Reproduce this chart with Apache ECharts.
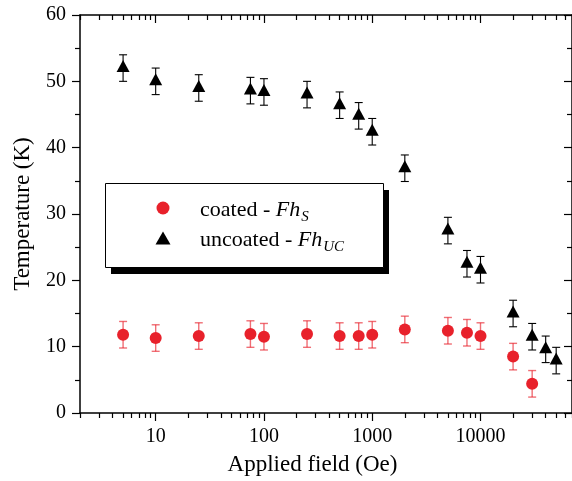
<!DOCTYPE html>
<html>
<head>
<meta charset="utf-8">
<script src="https://cdn.jsdelivr.net/npm/echarts@6/dist/echarts.min.js"></script>
<style>html,body{margin:0;padding:0;background:#fff}#c{width:572px;height:481px}</style>
</head>
<body>
<div id="c"></div>
<script>
// ---- data ----
const uncoatedFields = [5, 10, 25, 75, 100, 250, 500, 750, 1000, 2000, 5000, 7500, 10000, 20000, 30000, 40000, 50000];
const uncoatedTemp   = [52.0, 50.0, 49.0, 48.6, 48.4, 48.0, 46.4, 44.8, 42.4, 36.9, 27.5, 22.5, 21.6, 15.0, 11.5, 9.6, 7.9];
const uncoatedErr    = [2, 2, 2, 2, 2, 2, 2, 2, 2, 2, 2, 2, 2, 2, 2, 2, 2];
const coatedFields   = [5, 10, 25, 75, 100, 250, 500, 750, 1000, 2000, 5000, 7500, 10000, 20000, 30000];
const coatedTemp     = [11.8, 11.3, 11.6, 11.9, 11.5, 11.9, 11.6, 11.6, 11.8, 12.6, 12.4, 12.1, 11.6, 8.5, 4.4];
const coatedErr      = [2, 2, 2, 2, 2, 2, 2, 2, 2, 2, 2, 2, 2, 2, 2];
const xMajorTicks = [10, 100, 1000, 10000];
const xMinorTicks = [2,3,4,5,6,7,8,9, 20,30,40,50,60,70,80,90, 200,300,400,500,600,700,800,900,
                     2000,3000,4000,5000,6000,7000,8000,9000, 20000,30000,40000,50000,60000,70000];
const yTicks = [0, 10, 20, 30, 40, 50, 60];
const seriesNames = ['coated', 'uncoated'];
const legendSubs = ['S', 'UC'];
const xName = 'Applied field (Oe)';
const yName = 'Temperature (K)';

const RED = '#e8212b';
const FONT = '"Liberation Serif", "DejaVu Serif", serif';

const chart = echarts.init(document.getElementById('c'), null, {renderer: 'canvas'});

function build(fields, temps, errs) {
  return fields.map((f, i) => [f, temps[i], errs[i]]);
}
const coatedData = build(coatedFields, coatedTemp, coatedErr);
const uncoatedData = build(uncoatedFields, uncoatedTemp, uncoatedErr);

function errRender(color, width) {
  return function (params, api) {
    const x = api.value(0), y = api.value(1), e = api.value(2);
    const top = api.coord([x, y + e]);
    const bot = api.coord([x, y - e]);
    const hw = 4;
    const st = {stroke: color, lineWidth: width, fill: null};
    return {
      type: 'group',
      children: [
        {type: 'line', shape: {x1: top[0], y1: top[1], x2: bot[0], y2: bot[1]}, style: st},
        {type: 'line', shape: {x1: top[0] - hw, y1: top[1], x2: top[0] + hw, y2: top[1]}, style: st},
        {type: 'line', shape: {x1: bot[0] - hw, y1: bot[1], x2: bot[0] + hw, y2: bot[1]}, style: st}
      ]
    };
  };
}

const gridRect = {left: 80, top: 15, width: 494, height: 398};
const axisLineStyle = {color: '#000', width: 1.5};

function xAxis(gridIndex, position, ticks, len, inside, showLabel, showLine, name) {
  return {
    type: 'log', logBase: 10, min: 2, max: 70000, gridIndex, position,
    splitLine: {show: false},
    axisLine: {show: showLine, onZero: false, lineStyle: axisLineStyle},
    axisTick: {show: true, inside, length: len, customValues: ticks, lineStyle: {color: '#000', width: 1.2}},
    axisLabel: showLabel ? {show: true, customValues: ticks, margin: 14, color: '#000', fontFamily: FONT, fontSize: 20,
      formatter: v => String(Math.round(v))} : {show: false},
    name: name || '',
    nameLocation: 'middle', nameGap: 40,
    nameTextStyle: {color: '#000', fontFamily: FONT, fontSize: 23, padding: [0, 27, 0, 0]}
  };
}
function yAxis(gridIndex, position, inside, showLabel, name) {
  return {
    type: 'value', min: 0, max: 60, interval: 10, gridIndex, position,
    splitLine: {show: false},
    axisLine: {show: true, onZero: false, lineStyle: axisLineStyle},
    axisTick: {show: true, inside, length: 8, lineStyle: {color: '#000', width: 1.2}},
    minorTick: {show: true, splitNumber: 2, length: 5, lineStyle: {color: '#000', width: 1.2}},
    axisLabel: showLabel ? {show: true, margin: 14, color: '#000', fontFamily: FONT, fontSize: 20} : {show: false},
    name: name || '',
    nameLocation: 'middle', nameGap: 46,
    nameTextStyle: {color: '#000', fontFamily: FONT, fontSize: 23}
  };
}

const legendRich = {
  n: {fontFamily: FONT, fontSize: 22, color: '#000'},
  i: {fontFamily: FONT, fontSize: 22, fontStyle: 'italic', color: '#000'},
  s: {fontFamily: FONT, fontSize: 15, fontStyle: 'italic', color: '#000', padding: [14, 0, 0, 1]}
};

const option = {
  animation: false,
  backgroundColor: '#fff',
  grid: [Object.assign({}, gridRect), Object.assign({}, gridRect)],
  xAxis: [
    xAxis(0, 'bottom', xMajorTicks, 8, false, true, true, xName),
    xAxis(0, 'top', xMajorTicks, 8, true, false, true),
    xAxis(1, 'bottom', xMinorTicks, 5, false, false, false),
    xAxis(1, 'top', xMinorTicks, 5, true, false, false)
  ],
  yAxis: [
    yAxis(0, 'left', false, true, yName),
    yAxis(0, 'right', true, false),
    Object.assign(yAxis(1, 'left', false, false), {show: false})
  ],
  series: [
    {type: 'custom', name: seriesNames[0] + ' err', xAxisIndex: 0, yAxisIndex: 0, data: coatedData,
     encode: {x: 0, y: 1}, renderItem: errRender('rgba(232,33,43,0.65)', 1.4), z: 2, silent: true},
    {type: 'custom', name: seriesNames[1] + ' err', xAxisIndex: 0, yAxisIndex: 0, data: uncoatedData,
     encode: {x: 0, y: 1}, renderItem: errRender('#000', 1.1), z: 2, silent: true},
    {type: 'scatter', name: seriesNames[0], xAxisIndex: 0, yAxisIndex: 0, data: coatedData,
     encode: {x: 0, y: 1}, symbol: 'circle', symbolSize: 12, itemStyle: {color: RED, opacity: 1}, z: 3},
    {type: 'scatter', name: seriesNames[1], xAxisIndex: 0, yAxisIndex: 0, data: uncoatedData,
     encode: {x: 0, y: 1}, symbol: 'triangle', symbolSize: [13, 12], symbolOffset: [0, -2],
     itemStyle: {color: '#000', opacity: 1}, z: 3}
  ],
  graphic: [
    {type: 'rect', shape: {x: 111, y: 190, width: 278, height: 84}, style: {fill: '#000'}, z: 10},
    {type: 'rect', shape: {x: 105.5, y: 183.5, width: 278, height: 84}, style: {fill: '#fff', stroke: '#000', lineWidth: 1}, z: 11},
    {type: 'circle', shape: {cx: 163, cy: 208, r: 6.5}, style: {fill: RED}, z: 12},
    {type: 'polygon', shape: {points: [[163, 231.5], [170.5, 244.5], [155.5, 244.5]]}, style: {fill: '#000'}, z: 12},
    {type: 'text', x: 200, y: 210, z: 12, style: {text: '{n|' + seriesNames[0] + ' - }{i|Fh}{s|' + legendSubs[0] + '}', rich: legendRich, verticalAlign: 'middle', align: 'left'}},
    {type: 'text', x: 200, y: 240, z: 12, style: {text: '{n|' + seriesNames[1] + ' - }{i|Fh}{s|' + legendSubs[1] + '}', rich: legendRich, verticalAlign: 'middle', align: 'left'}}
  ]
};
chart.setOption(option);
</script>
</body>
</html>
